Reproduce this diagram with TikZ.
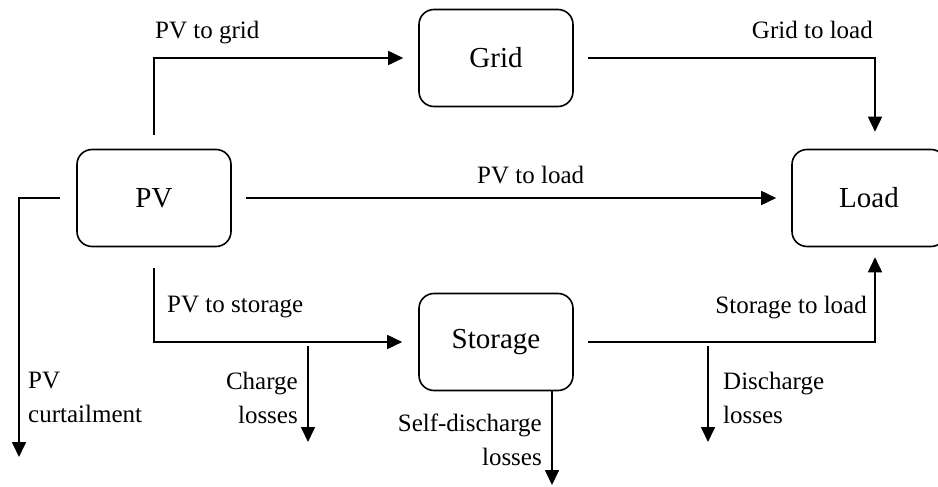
\documentclass[tikz,border=0pt]{standalone}
\usepackage{fontspec}
\setmainfont{Liberation Serif}
\usetikzlibrary{arrows.meta}
\tikzset{box/.style={draw,rounded corners=15pt,minimum width=154pt,minimum height=97pt,inner sep=0pt,line width=1.6pt,font=\fontsize{29}{34}\selectfont},
         flow/.style={line width=1.7pt,-{Triangle[length=15pt,width=14pt]}},
         loss/.style={line width=1.7pt,-{Triangle[length=15pt,width=14pt]}},
         lbl/.style={inner sep=0pt,font=\fontsize{25}{34}\selectfont}
         }

\begin{document}
\begin{tikzpicture}[x=1pt,y=-1pt]
        \useasboundingbox (0,0) rectangle (938,487);
        \node[box] (PV) at (154,198) {PV};
        \node[box] (Grid) at (496,58) {Grid};
        \node[box] (Load) at (869,198) {Load};
        \node[box] (Sto) at (496,342) {Storage};

        \coordinate (curt) at (19,457);
        \coordinate (chg) at (308,346);
        \coordinate (chgl) at (308,442);
        \coordinate (dis) at (708,346);
        \coordinate (disl) at (708,442);
        \coordinate (sdl) at (552,485);

        \draw[flow] ([yshift=14pt]PV.north) |- ([xshift=-15pt]Grid.west);
        \draw[flow] ([xshift=14pt]Grid.east) -| ([xshift=6pt,yshift=17pt]Load.north);
        \draw[flow] ([xshift=14pt]PV.east) -- ([xshift=-15pt]Load.west);
        \draw[flow] ([xshift=-16pt]PV.west) -| (curt);
        \draw[flow] ([yshift=-21pt]PV.south) |- ([xshift=-16pt]Sto.west);
        \draw[flow] ([xshift=14pt]Sto.east) -| ([xshift=6pt,yshift=-10pt]Load.south);
        \draw[loss] (chg) -- (chgl);
        \draw[loss] (dis) -- (disl);
        \draw[loss] (Sto.south -| sdl) -- (sdl);

        % multi-line labels: base = last line
        \node[lbl,anchor=base west] (lpg) at (155,39) {PV to grid};
        \node[lbl,anchor=base east] (lgl) at (873,39) {Grid to load};
        \node[lbl,anchor=base west] (lpl) at (477,183) {PV to load};
        \node[lbl,anchor=base west,align=left] (lcu) at (28,422) {PV\\curtailment};
        \node[lbl,anchor=base west] (lps) at (167,312) {PV to storage};
        \node[lbl,anchor=base east,align=right] (lcl) at (298,423) {Charge\\losses};
        \node[lbl,anchor=base east,align=right] (lsd) at (542,465) {Self-discharge\\losses};
        \node[lbl,anchor=base east] (lsl) at (867,313) {Storage to load};
        \node[lbl,anchor=base west,align=left] (ldl) at (723,423) {Discharge\\losses};
\end{tikzpicture}
\end{document}
